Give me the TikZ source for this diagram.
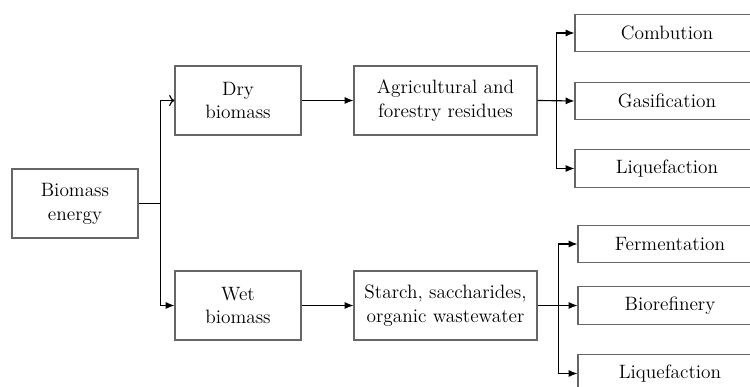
\documentclass[tikz,border=0pt]{standalone}
\usepackage{fontspec}
\usetikzlibrary{arrows.meta}
\begin{document}
\begin{tikzpicture}[
  box/.style={draw=black!60, line width=0.6pt, minimum width=2.52cm, minimum height=1.38cm, align=center, font=\fontsize{11}{13.6}\selectfont},
  wide/.style={box, minimum width=3.66cm},
  flat/.style={box, minimum width=3.68cm, minimum height=0.75cm},
  arr/.style={-{Latex[length=5pt,width=4pt]}, line width=0.65pt}
]
\useasboundingbox (0,0) rectangle (15,7.74);
\clip (0,0) rectangle (15,7.74);
\node[box] (energy) at (1.5, 3.67) {Biomass\\energy};
\node[box] (dry) at (4.76, 5.73) {Dry\\biomass};
\node[box] (wet) at (4.76, 1.63) {Wet\\biomass};
\node[wide] (agri) at (8.91, 5.73) {Agricultural and\\forestry residues};
\node[wide] (starch) at (8.91, 1.63) {Starch, saccharides,\\organic wastewater};
\node[flat] (comb) at (13.34, 7.08) {Combution};
\node[flat] (gasi) at (13.34, 5.72) {Gasification};
\node[flat] (liqa) at (13.34, 4.37) {Liquefaction};
\node[flat] (ferm) at (13.40, 2.86) {Fermentation};
\node[flat] (bioref) at (13.40, 1.63) {Biorefinery};
\node[flat] (liqb) at (13.40, 0.27) {Liquefaction};
% first split
\draw[line width=0.65pt] (energy.east) -- ++(0.44,0) coordinate (s1);
\draw[->, line width=0.65pt] (s1) |- (dry.west);
\draw[arr] (s1) |- (wet.west);
\draw[arr] (dry.east) -- (agri.west);
\draw[arr] (wet.east) -- (starch.west);
% dry routes
\draw[arr] (agri.east) -- (gasi.west);
\coordinate (s2) at ([xshift=0.38cm]agri.east);
\draw[arr] (s2) |- (comb.west);
\draw[arr] (s2) |- (liqa.west);
% wet routes
\draw[arr] (starch.east) -- (bioref.west);
\coordinate (s3) at ([xshift=0.42cm]starch.east);
\draw[arr] (s3) |- (ferm.west);
\draw[arr] (s3) |- (liqb.west);
\end{tikzpicture}
\end{document}
